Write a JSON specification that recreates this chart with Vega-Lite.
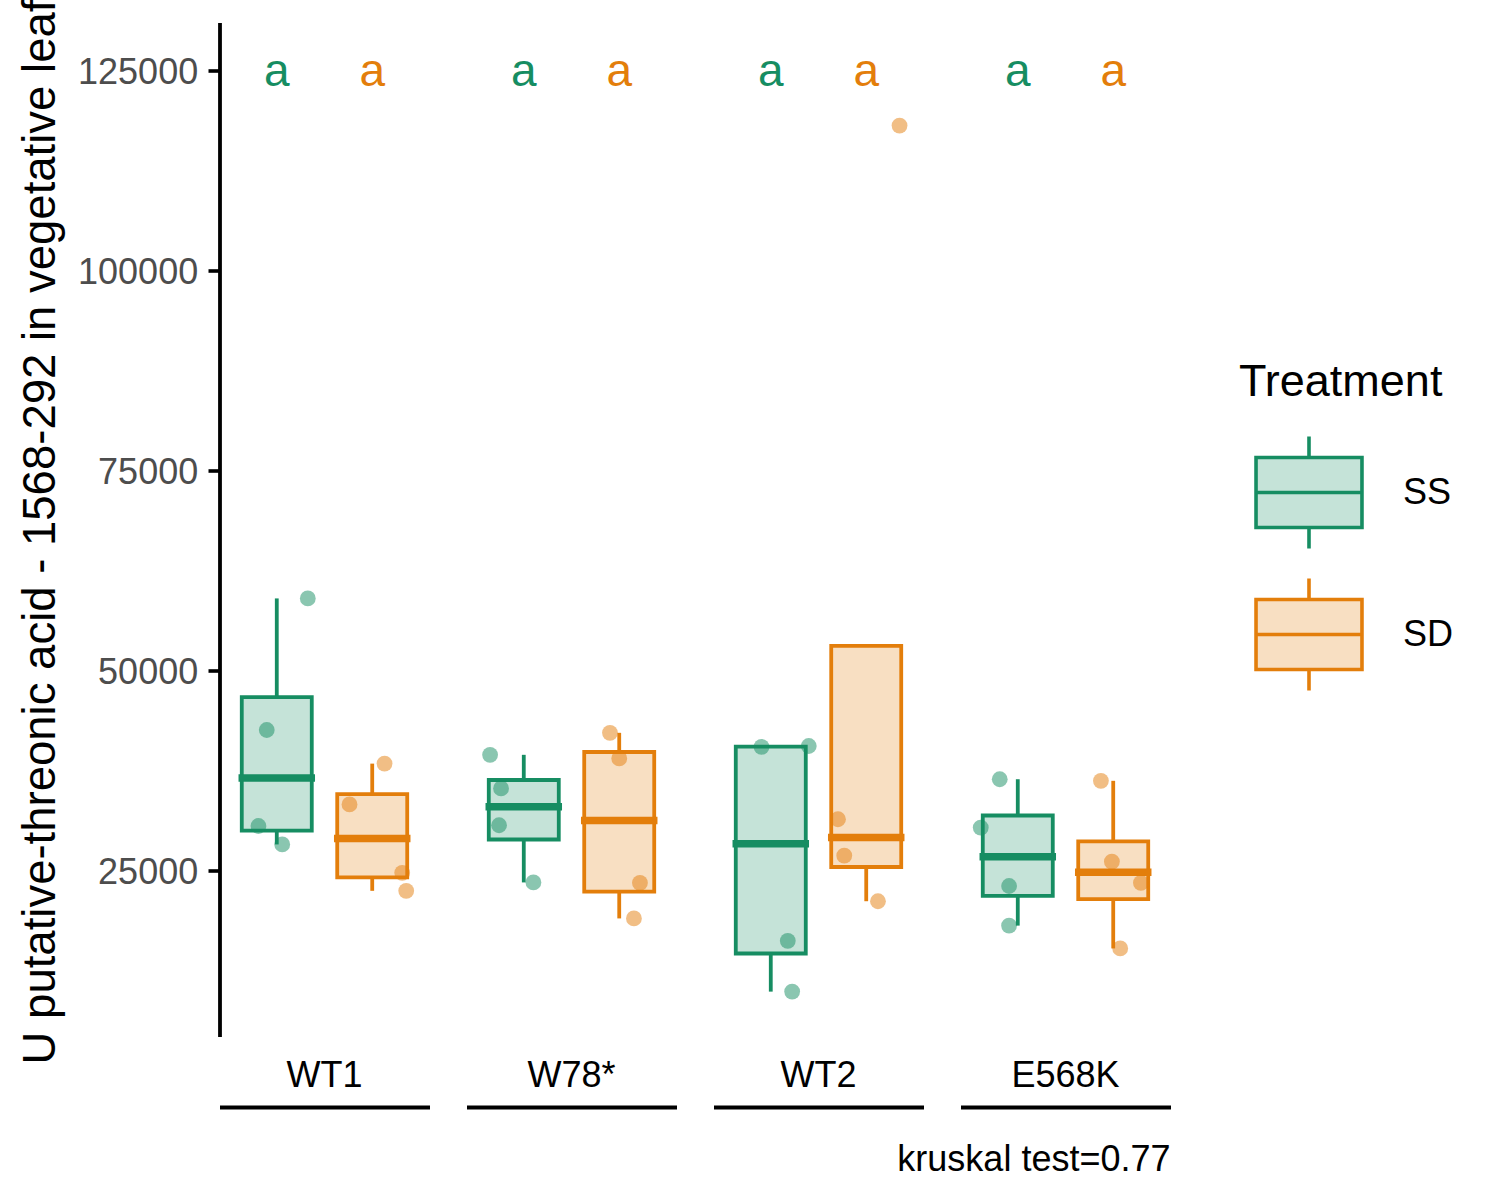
{
  "$schema": "https://vega.github.io/schema/vega-lite/v6.json",
  "autosize": {"type": "none"},
  "padding": {"left": 219.5, "top": 22.5, "right": 1280.5, "bottom": 1177.5},
  "config": {"font": "Liberation Sans", "view": {"stroke": null}, "axis": {"grid": false}},
  "data": {"values": [
    {"genotype": "WT1", "treatment": "SS", "value": 58950, "jitter": 0.325, "letter": "a"},
    {"genotype": "WT1", "treatment": "SS", "value": 42500, "jitter": -0.105, "letter": "a"},
    {"genotype": "WT1", "treatment": "SS", "value": 30500, "jitter": -0.192, "letter": "a"},
    {"genotype": "WT1", "treatment": "SS", "value": 28200, "jitter": 0.057, "letter": "a"},
    {"genotype": "WT1", "treatment": "SD", "value": 38300, "jitter": 0.129, "letter": "a"},
    {"genotype": "WT1", "treatment": "SD", "value": 33200, "jitter": -0.238, "letter": "a"},
    {"genotype": "WT1", "treatment": "SD", "value": 24650, "jitter": 0.314, "letter": "a"},
    {"genotype": "WT1", "treatment": "SD", "value": 22400, "jitter": 0.356, "letter": "a"},
    {"genotype": "W78*", "treatment": "SS", "value": 39400, "jitter": -0.353, "letter": "a"},
    {"genotype": "W78*", "treatment": "SS", "value": 35200, "jitter": -0.238, "letter": "a"},
    {"genotype": "W78*", "treatment": "SS", "value": 30600, "jitter": -0.259, "letter": "a"},
    {"genotype": "W78*", "treatment": "SS", "value": 23450, "jitter": 0.101, "letter": "a"},
    {"genotype": "W78*", "treatment": "SD", "value": 42150, "jitter": -0.097, "letter": "a"},
    {"genotype": "W78*", "treatment": "SD", "value": 38950, "jitter": 0.0, "letter": "a"},
    {"genotype": "W78*", "treatment": "SD", "value": 23400, "jitter": 0.217, "letter": "a"},
    {"genotype": "W78*", "treatment": "SD", "value": 18950, "jitter": 0.154, "letter": "a"},
    {"genotype": "WT2", "treatment": "SS", "value": 40400, "jitter": -0.097, "letter": "a"},
    {"genotype": "WT2", "treatment": "SS", "value": 40500, "jitter": 0.398, "letter": "a"},
    {"genotype": "WT2", "treatment": "SS", "value": 16150, "jitter": 0.178, "letter": "a"},
    {"genotype": "WT2", "treatment": "SS", "value": 9800, "jitter": 0.224, "letter": "a"},
    {"genotype": "WT2", "treatment": "SD", "value": 118050, "jitter": 0.349, "letter": "a"},
    {"genotype": "WT2", "treatment": "SD", "value": 31350, "jitter": -0.296, "letter": "a"},
    {"genotype": "WT2", "treatment": "SD", "value": 26800, "jitter": -0.230, "letter": "a"},
    {"genotype": "WT2", "treatment": "SD", "value": 21100, "jitter": 0.123, "letter": "a"},
    {"genotype": "E568K", "treatment": "SS", "value": 36350, "jitter": -0.189, "letter": "a"},
    {"genotype": "E568K", "treatment": "SS", "value": 30300, "jitter": -0.388, "letter": "a"},
    {"genotype": "E568K", "treatment": "SS", "value": 23000, "jitter": -0.091, "letter": "a"},
    {"genotype": "E568K", "treatment": "SS", "value": 18050, "jitter": -0.091, "letter": "a"},
    {"genotype": "E568K", "treatment": "SD", "value": 36150, "jitter": -0.129, "letter": "a"},
    {"genotype": "E568K", "treatment": "SD", "value": 26050, "jitter": -0.014, "letter": "a"},
    {"genotype": "E568K", "treatment": "SD", "value": 23400, "jitter": 0.290, "letter": "a"},
    {"genotype": "E568K", "treatment": "SD", "value": 15200, "jitter": 0.073, "letter": "a"}
  ]},
  "spacing": {"column": 37},
  "facet": {
    "column": {
      "field": "genotype", "type": "nominal",
      "sort": ["WT1", "W78*", "WT2", "E568K"],
      "header": {
        "labelOrient": "bottom", "labelFontSize": 36, "labelColor": "black", "labelPadding": -47.7,
        "title": "kruskal test=0.77", "titleOrient": "bottom", "titleAnchor": "end",
        "titleFontSize": 36, "titleFontWeight": "normal", "titleColor": "black", "titlePadding": 25
      }
    }
  },
  "spec": {
    "width": 210,
    "height": 1014,
    "layer": [
      {
        "mark": {"type": "boxplot", "extent": 1.5, "size": 70, "outliers": false,
          "box": {"strokeWidth": 3.8},
          "median": {"thickness": 1, "strokeWidth": 6.5, "opacity": 1},
          "rule": {"strokeWidth": 3.8}},
        "encoding": {
          "x": {"field": "treatment", "type": "nominal", "sort": ["SS", "SD"],
            "scale": {"paddingInner": 0, "paddingOuter": 0.1},
            "axis": {"labels": false, "ticks": false, "title": null, "domainWidth": 4, "domainColor": "black", "offset": 70.5, "domainCap": "butt"}},
          "y": {"field": "value", "type": "quantitative",
            "scale": {"domain": [4190, 130940], "nice": false, "zero": false},
            "axis": {"title": "U putative-threonic acid - 1568-292 in vegetative leaf",
              "values": [25000, 50000, 75000, 100000, 125000], "format": "d",
              "labelFontSize": 36, "labelColor": "#4D4D4D", "labelPadding": 10.3, "labelOffset": 2,
              "tickColor": "black", "tickWidth": 3.6, "tickSize": 11.5,
              "domainColor": "black", "domainWidth": 3.8,
              "titleFontSize": 45.5, "titleFontWeight": "normal", "titleColor": "black", "titlePadding": 13, "titleY": 509, "titleLimit": 0}},
          "fill": {"field": "treatment", "type": "nominal",
            "scale": {"domain": ["SS", "SD"], "range": ["#C5E3D8", "#F8DFC2"]},
            "legend": {"title": "Treatment", "orient": "none", "legendX": 1019.5, "legendY": 337, "padding": 0,
              "titleFontSize": 45, "titleFontWeight": "normal", "titleColor": "black", "titlePadding": 30, "titleLimit": 0,
              "labelFontSize": 36, "labelColor": "black", "labelOffset": 36, "labelLimit": 0,
              "symbolType": "M-0.946,-0.625H0.946V0.625H-0.946Z M-0.946,0H0.946 M0,-1V-0.625 M0,0.625V1",
              "symbolSize": 12544, "symbolStrokeWidth": 3.6, "symbolOffset": 12, "symbolOpacity": 1, "rowPadding": 14}},
          "stroke": {"field": "treatment", "type": "nominal",
            "scale": {"domain": ["SS", "SD"], "range": ["#168D62", "#E37E0B"]},
            "legend": {"title": "Treatment", "orient": "none", "legendX": 1019.5, "legendY": 337, "padding": 0,
              "titleFontSize": 45, "titleFontWeight": "normal", "titleColor": "black", "titlePadding": 30, "titleLimit": 0,
              "labelFontSize": 36, "labelColor": "black", "labelOffset": 36, "labelLimit": 0,
              "symbolType": "M-0.946,-0.625H0.946V0.625H-0.946Z M-0.946,0H0.946 M0,-1V-0.625 M0,0.625V1",
              "symbolSize": 12544, "symbolStrokeWidth": 3.6, "symbolOffset": 12, "symbolOpacity": 1, "rowPadding": 14}}
        }
      },
      {
        "mark": {"type": "point", "filled": true, "size": 250, "opacity": 0.5},
        "encoding": {
          "x": {"field": "treatment", "type": "nominal", "sort": ["SS", "SD"]},
          "xOffset": {"field": "jitter", "type": "quantitative", "scale": {"domain": [-0.5, 0.5]}},
          "y": {"field": "value", "type": "quantitative"},
          "color": {"field": "treatment", "type": "nominal",
            "scale": {"domain": ["SS", "SD"], "range": ["#168D62", "#E37E0B"]}, "legend": null}
        }
      },
      {
        "transform": [{"aggregate": [{"op": "count", "as": "n"}], "groupby": ["genotype", "treatment", "letter"]}],
        "mark": {"type": "text", "fontSize": 46, "baseline": "alphabetic", "dy": 16},
        "encoding": {
          "x": {"field": "treatment", "type": "nominal", "sort": ["SS", "SD"]},
          "y": {"datum": 125000, "type": "quantitative"},
          "text": {"field": "letter", "type": "nominal"},
          "color": {"field": "treatment", "type": "nominal",
            "scale": {"domain": ["SS", "SD"], "range": ["#168D62", "#E37E0B"]}, "legend": null}
        }
      }
    ]
  }
}
